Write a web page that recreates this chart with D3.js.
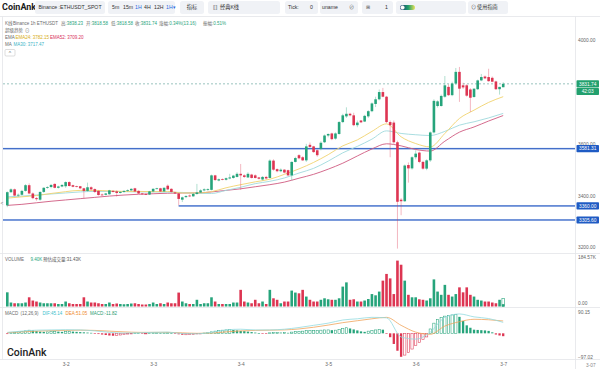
<!DOCTYPE html>
<html><head><meta charset="utf-8">
<script src="https://cdn.jsdelivr.net/npm/d3@7"></script>
<style>
html,body{margin:0;padding:0;background:#fff;}
svg{display:block;font-family:"Liberation Sans","Noto Sans CJK SC",sans-serif;}
</style></head><body>
<svg id="c" width="600" height="369"></svg>
<script>
// ---------- DATA ----------
// hourly candles [open, high, low, close], 3-1 08:00 -> 3-7 00:00
const candles = [
[3362,3416,3355,3413],[3413,3428,3410,3424],[3424,3427,3398,3400],[3400,3408,3395,3403],[3403,3422,3400,3418],
[3418,3444,3415,3440],[3440,3447,3405,3408],[3408,3412,3386,3390],[3390,3394,3380,3386],[3384,3416,3380,3414],
[3414,3432,3410,3430],[3430,3436,3426,3433],[3433,3445,3428,3441],[3445,3447,3428,3430],[3430,3438,3427,3435],
[3435,3444,3432,3441],[3436,3455,3430,3452],[3452,3455,3435,3437],[3440,3442,3432,3434],[3436,3438,3432,3434],
[3436,3437,3425,3428],[3428,3430,3390,3418],[3418,3450,3415,3432],[3432,3436,3420,3424],[3425,3428,3410,3414],
[3418,3420,3400,3402],[3404,3408,3400,3403],[3403,3410,3401,3408],[3405,3422,3403,3420],[3418,3421,3412,3414],
[3416,3420,3396,3410],[3410,3415,3408,3414],[3414,3420,3411,3418],[3418,3424,3415,3421],[3420,3428,3418,3426],
[3428,3430,3414,3416],[3418,3420,3406,3408],[3408,3410,3403,3405],[3406,3408,3402,3405],[3404,3418,3402,3416],
[3416,3428,3413,3426],[3426,3430,3424,3428],[3428,3430,3414,3416],[3416,3432,3414,3430],[3438,3443,3422,3424],
[3426,3428,3412,3414],[3412,3414,3406,3408],[3408,3410,3362,3387],[3384,3396,3375,3393],[3394,3402,3390,3398],
[3400,3404,3394,3397],[3397,3410,3395,3406],[3406,3445,3403,3412],[3412,3424,3410,3420],[3420,3428,3416,3424],
[3422,3428,3418,3425],[3422,3481,3420,3478],[3478,3480,3456,3460],[3458,3466,3455,3463],[3464,3466,3459,3461],
[3461,3470,3458,3467],[3466,3484,3463,3470],[3468,3480,3465,3477],[3472,3490,3470,3484],[3484,3522,3422,3478],
[3478,3482,3468,3472],[3470,3490,3468,3484],[3481,3484,3466,3468],[3478,3482,3466,3468],[3470,3472,3462,3465],
[3462,3475,3458,3472],[3472,3476,3462,3466],[3468,3540,3466,3535],[3535,3540,3496,3500],[3502,3505,3490,3494],
[3494,3505,3490,3500],[3500,3502,3486,3489],[3498,3500,3476,3478],[3478,3532,3459,3530],[3530,3550,3528,3545],
[3556,3560,3540,3544],[3548,3552,3534,3536],[3536,3600,3530,3590],[3596,3605,3585,3588],[3590,3592,3565,3568],
[3575,3578,3550,3556],[3580,3610,3575,3604],[3606,3636,3603,3632],[3632,3640,3625,3638],[3640,3643,3614,3618],
[3620,3644,3616,3640],[3638,3688,3635,3684],[3684,3716,3680,3710],[3706,3741,3700,3716],[3716,3720,3706,3710],
[3710,3720,3668,3672],[3672,3690,3664,3682],[3690,3692,3680,3683],[3686,3712,3684,3708],[3706,3730,3700,3726],
[3726,3760,3722,3756],[3754,3782,3742,3772],[3772,3810,3768,3800],[3800,3816,3780,3782],[3782,3785,3680,3684],
[3684,3690,3548,3672],[3682,3690,3600,3606],[3606,3612,3195,3376],[3384,3390,3324,3378],[3378,3520,3376,3516],
[3518,3528,3450,3505],[3505,3552,3500,3548],[3548,3575,3540,3562],[3566,3570,3525,3530],[3530,3534,3500,3504],
[3504,3540,3498,3536],[3536,3648,3530,3644],[3644,3772,3640,3766],[3746,3768,3740,3764],[3746,3790,3744,3785],
[3782,3862,3778,3826],[3820,3830,3785,3788],[3788,3840,3784,3833],[3833,3893,3828,3878],[3878,3897,3762,3813],
[3826,3836,3812,3818],[3826,3830,3782,3786],[3810,3815,3723,3778],[3781,3814,3778,3813],[3811,3848,3808,3845],
[3845,3870,3842,3858],[3860,3864,3850,3853],[3858,3890,3840,3842],[3855,3860,3838,3840],[3841,3844,3808,3811],
[3811,3820,3790,3820],[3818.58,3838.23,3818.58,3831.74]
];
// volume (K)
const volumes = [
57,16,13,13,13,16,37,24,20,16, 13,13,13,13,10,10,20,13,10,10,
10,37,20,16,16,13,10,10,16,10, 12,10,9,10,12,13,10,8,8,10,
16,10,13,10,16,13,13,56,20,13, 10,10,27,10,13,13,37,20,10,10,
10,10,16,16,67,20,16,13,27,13, 20,10,67,33,27,13,20,20,64,56,
53,67,40,27,20,20,27,33,29,27, 27,33,80,97,27,29,20,20,24,30,
50,45,60,104,131,113,50,184.57,168,104, 47,37,37,29,27,24,33,109,60,47,
87,47,40,50,77,57,77,47,40,27, 24,20,20,16,13,27,9.4
];
const estVolume = 31.43;
// MACD histogram
const macdHist = [
-3,2,4,6,8,10,13,12,9,7, 6,6,7,8,7,6,7,8,7,6,
5,4,3,2,-1,-3,-5,-7,-9,-10, -9,-7,-5,-3,-1,1,1,-1,-1,1,
2,2,1,1,2,1,-1,-4,-6,-6, -5,-4,-2,-1,1,2,6,9,11,13,
14,15,14,12,10,9,7,5,3,1, -1,-2,2,4,4,3,3,2,5,7,
8,9,11,12,12,12,13,14,14,13, 13,16,20,23,20,16,12,8,6,9,
12,14,16,15,-2,-16,-44,-72,-97.02,-90, -80,-65,-50,-37,-25,-15,18,42,58,66,
71,74,76,77,68,51,33,23,15,14, 13,12,10,4,-5,-9,-11.82
];
// indicator lines, read every 4th candle (candle 0,4,...,136)
const ema24 = [3390,3395,3400,3408,3415,3420,3420,3418,3416,3416,3415,3416,3410,3410,3415,3430,3442,3453,3463,3482,3503,3528,3558,3592,3615,3648,3677,3627,3601,3588,3640,3698,3730,3760,3782.15];
const ma30  = [3395,3398,3402,3406,3410,3414,3416,3416,3415,3414,3414,3413,3412,3408,3408,3420,3432,3446,3455,3468,3487,3505,3533,3565,3590,3618,3650,3640,3635,3632,3648,3672,3685,3700,3717.47];
const ema52 = [3362,3366,3372,3378,3383,3388,3393,3398,3402,3405,3407,3409,3410,3410,3414,3420,3426,3434,3442,3452,3467,3482,3502,3525,3553,3580,3600,3592,3578,3572,3610,3645,3665,3688,3709.20];
const dif = [4,9,13,14,15,14,10,4,1,2,4,5,-1,-2,4,14,17,14,14,17,24,33,42,55,60,66,64,-15,-24,5,66,80,68,61,45.14];
const dea = [3,6,9,11,12,13,12,9,6,4,4,4,2,0,1,6,10,12,13,14,18,25,34,44,52,60,66,33,5,-4,30,48,58,56,51.05];
const sampleStep = 4;
// axis ticks
const priceTicks = [3200,3400,3600,4000];
const xTickIdx = [16,40,64,88,112,136];
const xTickLabels = ["3-2","3-3","3-4","3-5","3-6","3-7"];
// drawn horizontal levels
const levelValues = [3581.31, 3360.00, 3305.60];
const levelStart  = [null, 47, null];
const lastPrice = 3831.74, countdown = "42:03";
const volMax = 184.57, macdMax = 90.15, macdMin = -97.02;

// ---------- CHART ----------
const svg = d3.select("#c");
const UP="#26a47b", DN="#dd3552";
const PL=3, PR=575;
const x  = d3.scaleLinear().domain([0,136]).range([7.3,503.2]);
const yP = d3.scaleLinear().domain([3200,4000]).range([247.3,40.3]);
const yV = d3.scaleLinear().domain([0,volMax]).range([306.5,260.6]);
const yM = d3.scaleLinear().domain([macdMin,macdMax]).range([356.8,311.5]);
const gray="#6b6b6b";

// toolbar
const tb = svg.append("g").attr("font-size",5.2);
tb.append("text").attr("x",2).attr("y",10.2).attr("font-size",9).attr("font-weight",700)
  .attr("font-family","Roboto,'Liberation Sans',sans-serif").attr("fill","#1c1c1c").text("CoinAnk");
const btns=[[35,70],[108,67],[180,24],[208,72],[285,33],[320,38],[362,31],[396,70],[468,40]];
btns.forEach(b=>tb.append("rect").attr("x",b[0]).attr("y",1).attr("width",b[1]).attr("height",13).attr("rx",2.5).attr("fill","#f0f2f6"));
const tt=(xx,s,c,anchor)=>tb.append("text").attr("x",xx).attr("y",9.3).attr("fill",c||"#333").attr("text-anchor",anchor||"start").text(s);
tt(70,"Binance :ETHUSDT_SPOT","#333","middle");
const tf=tb.append("text").attr("y",9.3).attr("fill","#333");
[["5m",112,"#333"],["15m",123,"#333"],["1H",135,"#2d6be0"],["4H",144,"#333"],["12H",154,"#333"],["1H▾",166,"#2d6be0"]].forEach(p=>tf.append("tspan").attr("x",p[1]).attr("fill",p[2]).text(p[0]));
tt(192,"指标","#333","middle");
tt(213,"⟦⟧","#333"); tt(220,"经典K线","#333");
tt(288,"Tick:","#333"); tt(310,"0","#333");
tt(322,"uname","#333"); tt(349,"⊘","#555");
tt(366,"⊞","#555"); tt(385,"1","#333");
const grad=svg.append("defs").append("linearGradient").attr("id","tg");
grad.append("stop").attr("offset","0").attr("stop-color","#1b2f7a");
grad.append("stop").attr("offset","0.55").attr("stop-color","#1f9f6a");
grad.append("stop").attr("offset","1").attr("stop-color","#e8e25a");
tb.append("rect").attr("x",400).attr("y",5).attr("width",15).attr("height",5).attr("rx",2.5).attr("fill","url(#tg)");
tb.append("circle").attr("cx",402.5).attr("cy",7.5).attr("r",2).attr("fill","#fff").attr("stroke","#bbb").attr("stroke-width",0.3);
tt(471,"⊙","#444"); tt(477,"使用指南","#333");

// frame lines
const fr = svg.append("g").attr("stroke","#e3e5e8").attr("stroke-width",0.8);
fr.append("line").attr("x1",0).attr("x2",600).attr("y1",16.5).attr("y2",16.5);
fr.append("line").attr("x1",2.5).attr("x2",2.5).attr("y1",16.5).attr("y2",360);
fr.append("line").attr("x1",PR+0.5).attr("x2",PR+0.5).attr("y1",16.5).attr("y2",369);
[253.5,307.5,359.5].forEach(yy=>fr.append("line").attr("x1",0).attr("x2",600).attr("y1",yy).attr("y2",yy));

// info text (segments placed at measured x)
const info = svg.append("g").attr("font-size",4.5).attr("fill",gray);
const l1 = info.append("text").attr("y",24.9);
l1.append("tspan").attr("x",5).text("K线");
l1.append("tspan").attr("x",13).text("Binance 1h ETHUSDT");
[["高:","3838.23",61],["开:","3818.58",86],["低:","3818.58",111],["收:","3831.74",135],["涨幅:","0.34%(13.16)",159],["振幅:","0.51%",203]].forEach(p=>{
  l1.append("tspan").attr("x",p[2]).attr("fill",gray).text(p[0]);
  l1.append("tspan").attr("fill",UP).text(p[1]);
});
const l2 = info.append("text").attr("y",31.5);
l2.append("tspan").attr("x",5).text("超级趋势");
l2.append("tspan").attr("x",25).text("⊙");
const l3=info.append("text").attr("y",38.9);
l3.append("tspan").attr("x",5).text("EMA");
l3.append("tspan").attr("x",15.5).attr("fill","#d7ac12").text("EMA24: 3782.15");
l3.append("tspan").attr("x",50).attr("fill","#d8305a").text("EMA52: 3709.20");
const l4=info.append("text").attr("y",45.9);
l4.append("tspan").attr("x",5).text("MA");
l4.append("tspan").attr("x",13.5).attr("fill","#3bb4c6").text("MA30: 3717.47");
info.append("rect").attr("x",5).attr("y",49.5).attr("width",10).attr("height",6.5).attr("rx",1).attr("fill","#fff").attr("stroke","#bbb").attr("stroke-width",0.5);
info.append("text").attr("x",10).attr("y",55).attr("text-anchor","middle").attr("font-size",5).text("^");

// clip
svg.append("clipPath").attr("id","mc").append("rect").attr("x",PL).attr("y",17).attr("width",PR-PL).attr("height",236);
const main = svg.append("g").attr("clip-path","url(#mc)");

// levels
levelValues.forEach((v,k)=>{
  const x1 = levelStart[k]==null ? PL : x(levelStart[k]);
  main.append("line").attr("x1",x1).attr("x2",PR).attr("y1",yP(v)).attr("y2",yP(v)).attr("stroke","#b9cdf0").attr("stroke-width",2);
  main.append("line").attr("x1",x1).attr("x2",PR).attr("y1",yP(v)).attr("y2",yP(v)).attr("stroke","#3462c4").attr("stroke-width",1);
});
main.append("line").attr("x1",PL).attr("x2",PR).attr("y1",yP(lastPrice)).attr("y2",yP(lastPrice))
  .attr("stroke","#6fa9a3").attr("stroke-width",0.7).attr("stroke-dasharray","2,2");

// MA lines
const lineGen = yS => d3.line().x((d,k)=>x(k*sampleStep)).y(d=>yS(d)).curve(d3.curveMonotoneX);
[[ema52,"#cf5a80"],[ma30,"#9fd9dc"],[ema24,"#f0d26e"]].forEach(p=>{
  main.append("path").attr("d",lineGen(yP)(p[0])).attr("fill","none").attr("stroke",p[1]).attr("stroke-width",0.9);
});

// candles
const cw=2.6;
const col = d => d[3]>=d[0]?UP:DN;
main.selectAll(".wk").data(candles).join("line").attr("class","wk")
  .attr("x1",(d,i)=>x(i)).attr("x2",(d,i)=>x(i))
  .attr("y1",d=>yP(d[1])).attr("y2",d=>yP(d[2]))
  .attr("stroke",col).attr("stroke-opacity",0.45).attr("stroke-width",0.8);
main.selectAll(".bd").data(candles).join("rect").attr("class","bd")
  .attr("x",(d,i)=>x(i)-cw/2).attr("width",cw)
  .attr("y",d=>yP(Math.max(d[0],d[3])))
  .attr("height",d=>Math.max(0.8,Math.abs(yP(d[0])-yP(d[3]))))
  .attr("fill",col);

// volume
const vg = svg.append("g");
vg.selectAll("rect").data(volumes).join("rect")
  .attr("x",(d,i)=>x(i)-cw/2).attr("width",cw)
  .attr("y",d=>yV(d)).attr("height",d=>yV(0)-yV(d))
  .attr("fill",(d,i)=>col(candles[i]));
vg.append("rect").attr("x",x(136)-cw/2).attr("width",cw).attr("y",yV(estVolume)).attr("height",yV(0)-yV(estVolume))
  .attr("fill","none").attr("stroke",UP).attr("stroke-width",0.6);

// MACD
const mg = svg.append("g");
mg.selectAll("rect").data(macdHist).join("rect")
  .attr("x",(d,i)=>x(i)-1.15).attr("width",2.3)
  .attr("y",d=>Math.min(yM(d),yM(0))).attr("height",d=>Math.max(0.6,Math.abs(yM(d)-yM(0))))
  .each(function(d,i){
    const prev = i>0?macdHist[i-1]:0;
    const hollow = d>=prev;
    const c = d>=0?UP:DN;
    d3.select(this).attr("fill",hollow?"#fff":c).attr("stroke",hollow?c:"none").attr("stroke-width",0.55);
  });
mg.append("path").attr("d",lineGen(yM)(dea)).attr("fill","none").attr("stroke","#f0a35a").attr("stroke-width",0.8);
mg.append("path").attr("d",lineGen(yM)(dif)).attr("fill","none").attr("stroke","#93dbe0").attr("stroke-width",0.8);

// panel labels
const vl = svg.append("text").attr("y",261).attr("font-size",4.5).attr("fill",gray);
vl.append("tspan").attr("x",5).text("VOLUME");
vl.append("tspan").attr("x",30.5).attr("fill",UP).text("9.40K");
vl.append("tspan").attr("x",43).attr("fill","#555").text("预估成交量:31.43K");
const ml = svg.append("text").attr("y",314.8).attr("font-size",4.5).attr("fill",gray);
ml.append("tspan").attr("x",5).text("MACD");
ml.append("tspan").attr("x",20.5).text("(12,26,9)");
ml.append("tspan").attr("x",42.5).attr("fill","#3cc0cc").text("DIF:45.14");
ml.append("tspan").attr("x",65.5).attr("fill","#ef8a2d").text("DEA:51.05");
ml.append("tspan").attr("x",90).attr("fill","#1f9a70").text("MACD:-11.82");

// watermark
svg.append("text").attr("x",7).attr("y",355.5).attr("font-size",10.5).attr("font-weight",500)
  .attr("font-family","Roboto,'Liberation Sans',sans-serif").attr("fill","#1d1d1d").text("CoinAnk");
svg.append("text").attr("x",0.5).attr("y",205).attr("font-size",5).attr("fill","#777").text("<");

// axes
const axFont = g => { g.select(".domain").remove(); g.selectAll("line").remove();
  g.selectAll("text").attr("font-size",4.8).attr("fill","#666").attr("font-family","'Liberation Sans',sans-serif"); };
svg.append("g").attr("transform",`translate(${PR+1},0)`)
  .call(d3.axisRight(yP).tickValues(priceTicks).tickFormat(d3.format(".2f")).tickSize(0).tickPadding(2)).call(axFont);
svg.append("g").attr("transform",`translate(${PR+1},-3.8)`)
  .call(d3.axisRight(yV).tickValues([0,volMax]).tickFormat(d=>d===0?"0.00":d3.format(".2f")(d)+"K").tickSize(0).tickPadding(2)).call(axFont);
svg.append("g").attr("transform",`translate(${PR+1},0)`)
  .call(d3.axisRight(yM).tickValues([macdMin,macdMax]).tickFormat(d3.format(".2f")).tickSize(0).tickPadding(2)).call(axFont);
svg.append("g").attr("transform","translate(0,360)")
  .call(d3.axisBottom(x).tickValues(xTickIdx).tickFormat((d,i)=>xTickLabels[i]).tickSize(0).tickPadding(3)).call(axFont);
svg.append("text").attr("x",586).attr("y",366.5).attr("font-size",4.8).attr("fill","#888").text("3-07");

// price tags
const tag = (v, fillC, label) => {
  const yy = yP(v);
  svg.append("rect").attr("x",PR+1.5).attr("y",yy-3.6).attr("width",22.5).attr("height",7.2).attr("rx",0.8).attr("fill",fillC);
  svg.append("text").attr("x",PR+12.7).attr("y",yy+1.7).attr("text-anchor","middle").attr("font-size",4.8).attr("fill","#fff").text(label);
};
levelValues.forEach(v=>tag(v,"#1f5bc4",d3.format(".2f")(v)));
tag(lastPrice,"#22a06e",d3.format(".2f")(lastPrice));
// countdown tag
const cy0 = yP(lastPrice)+4.1;
svg.append("rect").attr("x",PR+1.5).attr("y",cy0).attr("width",22.5).attr("height",7).attr("rx",0.8).attr("fill","#22a06e");
svg.append("text").attr("x",PR+12.7).attr("y",cy0+5.2).attr("text-anchor","middle").attr("font-size",4.8).attr("fill","#fff").text(countdown);
</script></body></html>
